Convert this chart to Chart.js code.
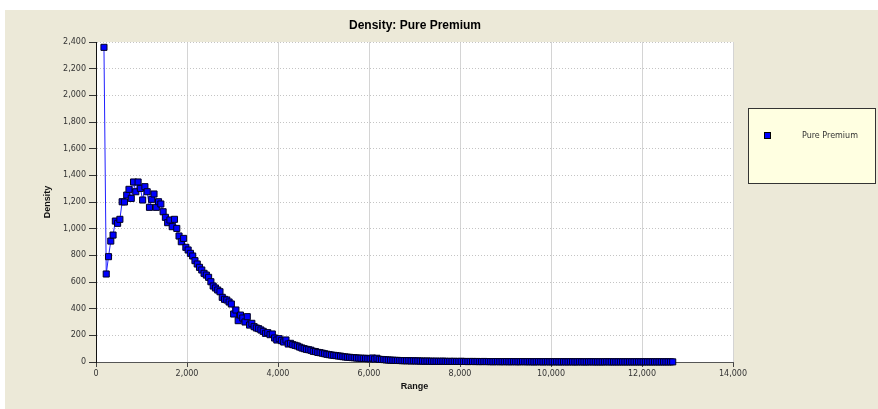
<!DOCTYPE html>
<html>
<head>
<meta charset="utf-8">
<script src="https://cdn.jsdelivr.net/npm/chart.js@4"></script>
<style>
  html, body { margin: 0; padding: 0; background: #ffffff; }
  canvas { display: block; }
</style>
</head>
<body>
<canvas id="c" width="878" height="409"></canvas>
<script>
// ---- data ----
const chartTitle = "Density: Pure Premium";
const seriesName = "Pure Premium";
const xTitle = "Range";
const yTitle = "Density";
const xTicks = [0, 2000, 4000, 6000, 8000, 10000, 12000, 14000];
const yTicks = [0, 200, 400, 600, 800, 1000, 1200, 1400, 1600, 1800, 2000, 2200, 2400];

const rangeValues = [
  175,225,275,325,375,425,475,525,575,625,
  675,725,775,825,875,925,975,1025,1075,1125,
  1175,1225,1275,1325,1375,1425,1475,1525,1575,1625,
  1675,1725,1775,1825,1875,1925,1975,2025,2075,2125,
  2175,2225,2275,2325,2375,2425,2475,2525,2575,2625,
  2675,2725,2775,2825,2875,2925,2975,3025,3075,3125,
  3175,3225,3275,3325,3375,3425,3475,3525,3575,3625,
  3675,3725,3775,3825,3875,3925,3975,4025,4075,4125,
  4175,4225,4275,4325,4375,4425,4475,4525,4575,4625,
  4675,4725,4775,4825,4875,4925,4975,5025,5075,5125,
  5175,5225,5275,5325,5375,5425,5475,5525,5575,5625,
  5675,5725,5775,5825,5875,5925,5975,6025,6075,6125,
  6175,6225,6275,6325,6375,6425,6475,6525,6575,6625,
  6675,6725,6775,6825,6875,6925,6975,7025,7075,7125,
  7175,7225,7275,7325,7375,7425,7475,7525,7575,7625,
  7675,7725,7775,7825,7875,7925,7975,8025,8075,8125,
  8175,8225,8275,8325,8375,8425,8475,8525,8575,8625,
  8675,8725,8775,8825,8875,8925,8975,9025,9075,9125,
  9175,9225,9275,9325,9375,9425,9475,9525,9575,9625,
  9675,9725,9775,9825,9875,9925,9975,10025,10075,10125,
  10175,10225,10275,10325,10375,10425,10475,10525,10575,10625,
  10675,10725,10775,10825,10875,10925,10975,11025,11075,11125,
  11175,11225,11275,11325,11375,11425,11475,11525,11575,11625,
  11675,11725,11775,11825,11875,11925,11975,12025,12075,12125,
  12175,12225,12275,12325,12375,12425,12475,12525,12575,12625,
  12675
];

const densityValues = [
  2360,660,790,907,952,1057,1040,1070,1202,1200,
  1252,1295,1227,1350,1277,1350,1302,1215,1315,1277,
  1160,1220,1260,1160,1202,1185,1127,1085,1045,1065,
  1015,1070,1002,945,902,927,860,840,815,795,
  760,735,710,690,665,652,635,602,570,555,
  540,527,485,470,465,450,435,360,390,310,
  352,330,300,340,277,290,265,255,250,240,
  230,215,220,205,210,180,165,175,160,150,
  165,135,140,130,125,120,112,105,100,95,
  92,88,80,78,72,70,66,62,58,55,
  52,50,48,45,44,40,38,36,35,33,
  32,30,29,28,27,28,25,24,30,22,
  28,20,19,18,16,15,14,13,12,12,
  11,10,10,9,10,8,9,8,8,7,
  7,6,7,6,6,5,6,5,5,6,
  5,4,5,4,5,4,4,5,4,4,
  3,4,4,3,4,3,3,4,3,3,
  3,2,3,3,2,3,2,3,2,2,
  3,2,2,2,3,2,2,2,2,1,
  2,2,2,1,2,2,1,2,1,2,
  1,1,2,1,1,2,1,1,1,2,
  1,1,1,1,2,1,1,1,1,1,
  1,2,1,1,1,1,1,1,1,1,
  1,1,1,1,1,1,1,1,1,1,
  1,1,1,1,1,1,1,1,1,1,
  1
];

// ---- build points ----
const n = Math.min(rangeValues.length, densityValues.length);
const points = [];
for (let i = 0; i < n; i++) points.push({ x: rangeValues[i], y: densityValues[i] });

const TICK_FONT = { family: "'DejaVu Sans', Verdana, sans-serif", size: 8 };
const AXIS_TITLE_FONT = { family: "'Liberation Sans', Arial, sans-serif", size: 9, weight: 'bold' };

const backgroundPlugin = {
  id: 'bg',
  beforeDraw(chart) {
    const ctx = chart.ctx;
    const ca = chart.chartArea;
    ctx.save();
    ctx.fillStyle = '#ffffff';
    ctx.fillRect(0, 0, chart.width, chart.height);
    ctx.fillStyle = '#ECE9D8';
    ctx.fillRect(5, 10, chart.width - 5, chart.height - 10);
    ctx.fillStyle = '#ffffff';
    ctx.fillRect(ca.left, ca.top, ca.right - ca.left, ca.bottom - ca.top);
    ctx.restore();
  }
};

const legendBoxPlugin = {
  id: 'legendBox',
  afterDraw(chart) {
    const ctx = chart.ctx;
    const ds = chart.data.datasets[0];
    ctx.save();
    ctx.fillStyle = '#FFFFE1';
    ctx.fillRect(748, 108, 128, 76);
    ctx.strokeStyle = '#333333';
    ctx.lineWidth = 1;
    ctx.strokeRect(748.5, 108.5, 127, 75);
    ctx.fillStyle = ds.pointBackgroundColor;
    ctx.fillRect(764, 132, 6, 6);
    ctx.strokeStyle = '#000000';
    ctx.strokeRect(764.5, 132.5, 6, 6);
    ctx.fillStyle = '#333333';
    ctx.font = "8px 'DejaVu Sans', Verdana, sans-serif";
    ctx.textAlign = 'left';
    ctx.textBaseline = 'middle';
    ctx.fillText(ds.label, 802, 135.5);
    ctx.restore();
  }
};

new Chart(document.getElementById('c'), {
  type: 'scatter',
  data: {
    datasets: [{
      label: seriesName,
      data: points,
      showLine: true,
      borderColor: '#2020FF',
      borderWidth: 1,
      tension: 0,
      pointStyle: 'rect',
      pointRadius: 4.3,
      pointBackgroundColor: '#0000FF',
      pointBorderColor: '#000022',
      pointBorderWidth: 1,
      clip: false
    }]
  },
  options: {
    responsive: false,
    animation: false,
    devicePixelRatio: 1,
    layout: { padding: { left: 5, right: 53, top: 0, bottom: 0 } },
    plugins: {
      legend: { display: false },
      tooltip: { enabled: false },
      title: {
        display: true,
        text: chartTitle,
        color: '#000000',
        font: { family: "'Liberation Sans', Arial, sans-serif", size: 12, weight: 'bold' },
        padding: { top: 18.5, bottom: 9.1 }
      }
    },
    scales: {
      x: {
        type: 'linear',
        position: 'bottom',
        min: xTicks[0],
        max: xTicks[xTicks.length - 1],
        afterBuildTicks(scale) { scale.ticks = xTicks.map(v => ({ value: v })); },
        afterFit(scale) { scale.height = 47; },
        ticks: { font: TICK_FONT, color: '#333333', padding: 2, maxRotation: 0, autoSkip: false },
        grid: {
          color: (c) => (c.tick && c.tick.value === 0) ? 'rgba(0,0,0,0)' : '#D4D4D4',
          lineWidth: 1, tickColor: '#444444', tickLength: 5, drawTicks: true
        },
        border: { display: true, color: '#555555', width: 1, dash: [] },
        title: { display: true, text: xTitle, color: '#111111', font: AXIS_TITLE_FONT, padding: { top: 0, bottom: 17 } }
      },
      y: {
        type: 'linear',
        position: 'left',
        min: yTicks[0],
        max: yTicks[yTicks.length - 1],
        afterBuildTicks(scale) { scale.ticks = yTicks.map(v => ({ value: v })); },
        afterFit(scale) { scale.width = 91; },
        ticks: { font: TICK_FONT, color: '#333333', padding: 3, autoSkip: false },
        grid: {
          color: (c) => (c.tick && c.tick.value === 0) ? 'rgba(0,0,0,0)' : '#C4C4C4',
          lineWidth: 1, tickColor: '#333333', tickLength: 7, drawTicks: true
        },
        border: { display: true, color: '#111111', width: 1, dash: [1, 2], z: 1 },
        title: { display: true, text: yTitle, color: '#111111', font: AXIS_TITLE_FONT, padding: { top: 37, bottom: 0 } }
      },
      yRight: {
        type: 'linear',
        position: 'right',
        display: true,
        min: 0,
        max: 1,
        afterFit(scale) { scale.width = 92; },
        ticks: { display: false },
        grid: { display: false, drawTicks: false },
        border: { display: false }
      }
    }
  },
  plugins: [backgroundPlugin, legendBoxPlugin]
});
</script>
</body>
</html>
